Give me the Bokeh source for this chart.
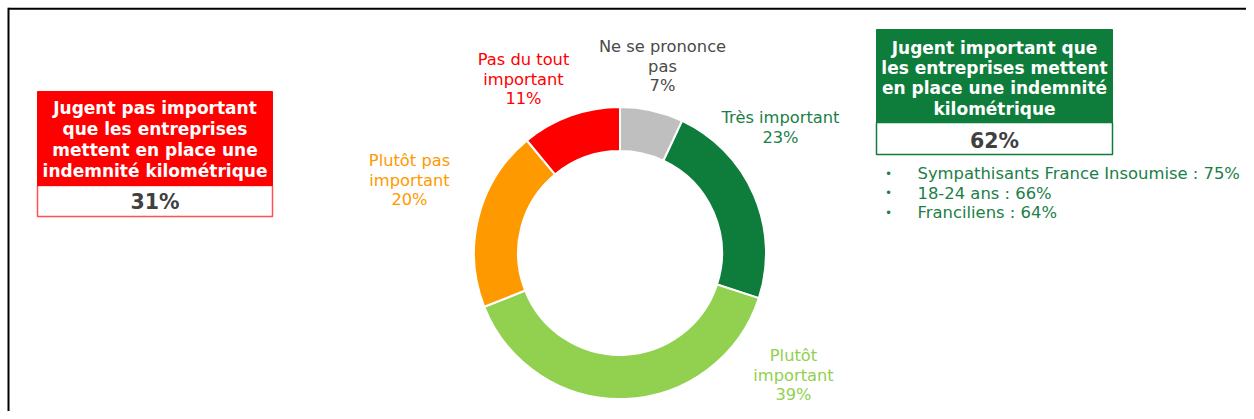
import math
from bokeh.plotting import figure
from bokeh.models import Range1d
from bokeh.core.properties import value
from bokeh.embed import file_html
from bokeh.resources import INLINE

# ---------------- data ----------------
categories = ["Ne se prononce pas", "Très important", "Plutôt important",
              "Plutôt pas important", "Pas du tout important"]
values = [7, 23, 39, 20, 11]
colors = ["#BFBFBF", "#0E7C3A", "#92D050", "#FF9900", "#FF0000"]
label_lines = [["Ne se prononce", "pas"], ["Très important"], ["Plutôt", "important"],
               ["Plutôt pas", "important"], ["Pas du tout", "important"]]
label_colors = ["#4A4A4A", "#1B8048", "#92D050", "#FF9900", "#FF0000"]

not_important_title = ["Jugent pas important", "que les entreprises",
                       "mettent en place une", "indemnité kilométrique"]
important_title = ["Jugent important que", "les entreprises mettent",
                   "en place une indemnité", "kilométrique"]
segments = ["Sympathisants France Insoumise", "18-24 ans", "Franciliens"]
segment_values = [75, 66, 64]

important_total = values[1] + values[2]
not_important_total = values[3] + values[4]

# ---------------- layout helpers (pixel coordinates of the reference) ----------------
W, H = 1246, 411
PAGE_H = 419


def Y(py):
    return PAGE_H - py


p = figure(width=W, height=H, output_backend="svg", toolbar_location=None,
           x_range=Range1d(0, W), y_range=Range1d(PAGE_H - H, PAGE_H),
           min_border=0, outline_line_color=None)
p.axis.visible = False
p.grid.visible = False
p.background_fill_color = "white"
p.border_fill_color = "white"

FONT = value("DejaVu Sans")

# frame lines (top and left)
p.segment(x0=[8, 8], y0=[Y(8.3), Y(7.3)], x1=[W, 8], y1=[Y(8.3), Y(H)],
          line_color="black", line_width=2)

# ---------------- donut ----------------
cx, cy = 619.5, Y(252.5)
total = sum(values)
cum = 0
starts, ends = [], []
for v in values:
    starts.append(math.pi / 2 - 2 * math.pi * cum / total)
    cum += v
    ends.append(math.pi / 2 - 2 * math.pi * cum / total)

p.annular_wedge(x=[cx] * len(values), y=[cy] * len(values),
                inner_radius=102, outer_radius=146,
                inner_radius_units="screen", outer_radius_units="screen",
                start_angle=starts, end_angle=ends, direction="clock",
                fill_color=colors, line_color="white", line_width=2)

# donut labels
label_pos = [(662, 46), (780, 117), (793, 355), (409, 160), (523, 59)]
LS = 19.7
for (lx, ly), lines, v, col in zip(label_pos, label_lines, values, label_colors):
    txt = lines + [f"{v}%"]
    p.text(x=[lx] * len(txt), y=[Y(ly + i * LS) for i in range(len(txt))], text=txt,
           text_align="center", text_baseline="middle", text_color=col,
           text_font=FONT, text_font_size="16.3px")

# ---------------- left box ----------------
red = "#FF0000"
p.quad(left=[37], right=[272], top=[Y(216)], bottom=[Y(185)],
       fill_color="white", line_color="#FF5050", line_width=1.5)
p.quad(left=[37], right=[272], top=[Y(91)], bottom=[Y(185)],
       fill_color=red, line_color=red, line_width=1)
p.text(x=[154.5] * 4, y=[Y(107 + i * 21.2) for i in range(4)], text=not_important_title,
       text_align="center", text_baseline="middle", text_color="white",
       text_font=FONT, text_font_style="bold", text_font_size="17px")
p.text(x=[154.5], y=[Y(201)], text=[f"{not_important_total}%"],
       text_align="center", text_baseline="middle", text_color="#404040",
       text_font=FONT, text_font_style="bold", text_font_size="20.5px")

# ---------------- right box ----------------
green = "#0E7C3A"
p.quad(left=[876], right=[1112], top=[Y(154)], bottom=[Y(122)],
       fill_color="white", line_color=green, line_width=1.5)
p.quad(left=[876], right=[1112], top=[Y(29)], bottom=[Y(122)],
       fill_color=green, line_color=green, line_width=1)
p.text(x=[994] * 4, y=[Y(47 + i * 20.4) for i in range(4)], text=important_title,
       text_align="center", text_baseline="middle", text_color="white",
       text_font=FONT, text_font_style="bold", text_font_size="17px")
p.text(x=[994], y=[Y(140)], text=[f"{important_total}%"],
       text_align="center", text_baseline="middle", text_color="#404040",
       text_font=FONT, text_font_style="bold", text_font_size="20.5px")

# bullets
bullet_green = "#1B8048"
n = len(segments)
p.text(x=[888] * n, y=[Y(173 + i * 19.5) for i in range(n)], text=["•"] * n,
       text_align="center", text_baseline="middle", text_color=bullet_green,
       text_font=FONT, text_font_size="12px")
p.text(x=[917] * n, y=[Y(173 + i * 19.5) for i in range(n)],
       text=[f"{s} : {v}%" for s, v in zip(segments, segment_values)],
       text_align="left", text_baseline="middle", text_color=bullet_green,
       text_font=FONT, text_font_size="16.4px")

open("out.html", "w").write(file_html(p, INLINE))
